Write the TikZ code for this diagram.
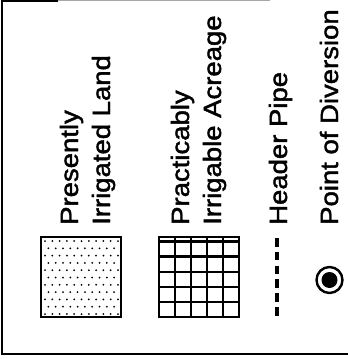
\documentclass[tikz,border=0pt]{standalone}
\usepackage{fontspec}
\setmainfont{Liberation Sans}
\newfontfamily\lblfont[FakeBold=1.6]{Liberation Sans}
\tikzset{
  lbl/.style={rotate=90, anchor=base west, inner sep=0pt, font=\lblfont\fontsize{25bp}{29bp}\selectfont},
  frameline/.style={line width=2.4bp, black},
  boxline/.style={line width=2.3bp, black},
  pipe/.style={line width=3.2bp, dash pattern=on 8.5bp off 5.3bp},
}
\newcommand{\stretchtxt}[1]{\scalebox{1.1}[1]{#1}}
\begin{document}
\begin{tikzpicture}[x=1bp, y=-1bp]
\useasboundingbox (0,0) rectangle (348,359);
% frame
\draw[frameline] (2,0) -- (2,354) -- (348,354);
\draw[line width=1.2bp, black!35] (2,0.6) -- (270,0.6);
\draw[line width=1.5bp] (2,0.8) -- (58,0.8);
% labels
\node[lbl] (t1) at (78,225) {\stretchtxt{Presently}};
\node[lbl] (t2) at (110,225) {\stretchtxt{Irrigated Land}};
\node[lbl] (t3) at (189,225) {\stretchtxt{Practicably}};
\node[lbl] (t4) at (221,225) {\stretchtxt{Irrigable Acreage}};
\node[lbl] (t5) at (287,225) {\stretchtxt{Header Pipe}};
\node[lbl] (t6) at (338,225) {\stretchtxt{Point of Diversion}};
% dotted box
\node[draw, boxline, minimum size=80bp, inner sep=0pt] (dotbox) at (81,277) {};
\foreach \r in {0,...,10} {
  \foreach \c in {0,...,10} {
    \pgfmathsetmacro{\xx}{45+7.3*\c+mod(\r,2)*3.4}
    \pgfmathsetmacro{\yy}{241+7.3*\r}
    \ifdim \xx pt<119pt
      \fill (\xx,\yy) circle (1bp);
    \fi
  }
}
% grid box
\node[draw, boxline, minimum size=80bp, inner sep=0pt] (gridbox) at (199,277) {};
\foreach \k in {1,...,4} {
  \draw[boxline] (159+16*\k,237) -- (159+16*\k,317);
}
\foreach \yy in {241.5,256.6,271.7,286.8,301.9} {
  \draw[boxline] (159,\yy) -- (239,\yy);
}
% header pipe
\coordinate (p1) at (277,238);
\coordinate (p2) at (277,316);
\draw[pipe] (p1) -- (p2);
% point of diversion
\node[circle, draw, line width=2.4bp, minimum size=26bp, inner sep=0pt] (pod) at (329.5,280) {};
\fill (pod.center) circle (8bp);
\end{tikzpicture}
\end{document}
